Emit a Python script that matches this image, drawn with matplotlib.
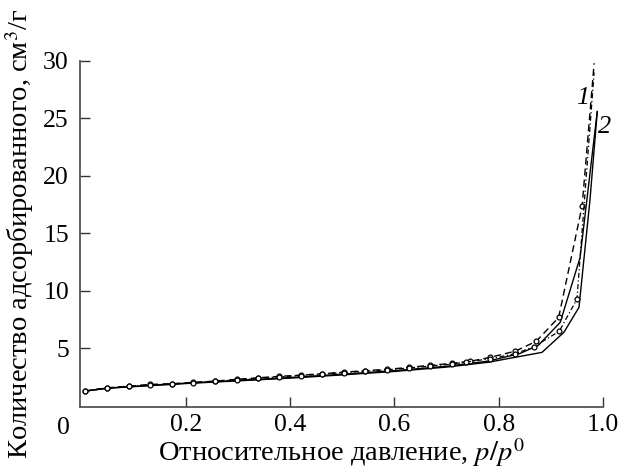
import numpy as np
import matplotlib
matplotlib.use("Agg")
import matplotlib.pyplot as plt

plt.rcParams["font.family"] = ["Liberation Serif", "DejaVu Serif"]
plt.rcParams["mathtext.fontset"] = "stix"

# curve 1, upper branch (dashed, circles)
x1a = [0.006, 0.049, 0.091, 0.132, 0.173, 0.214, 0.256, 0.297, 0.339, 0.379,
       0.420, 0.461, 0.503, 0.544, 0.586, 0.627, 0.668, 0.710, 0.745, 0.783,
       0.832, 0.872, 0.915, 0.960, 0.983]
y1a = [1.29, 1.58, 1.72, 1.87, 1.93, 2.05, 2.16, 2.31, 2.45, 2.57,
       2.68, 2.80, 2.94, 3.07, 3.18, 3.35, 3.53, 3.70, 3.88, 4.22,
       4.77, 5.62, 7.70, 17.4, 29.8]

# curve 1, lower branch (dashed, circles)
x1b = [0.006, 0.049, 0.091, 0.132, 0.173, 0.214, 0.256, 0.297, 0.339, 0.379,
       0.420, 0.461, 0.503, 0.544, 0.586, 0.627, 0.668, 0.710, 0.737, 0.783,
       0.832, 0.868, 0.916, 0.950, 0.983]
y1b = [1.29, 1.56, 1.70, 1.84, 1.91, 2.02, 2.13, 2.27, 2.41, 2.53,
       2.64, 2.76, 2.90, 3.02, 3.14, 3.30, 3.47, 3.64, 3.82, 4.10,
       4.55, 5.16, 6.49, 9.28, 29.0]

# curve 2, two solid branches
x2a = [0.006, 0.05, 0.1, 0.2, 0.3, 0.4, 0.5, 0.6, 0.7, 0.78, 0.84, 0.876,
       0.918, 0.956, 0.989]
y2a = [1.29, 1.55, 1.70, 1.98, 2.22, 2.47, 2.76, 3.07, 3.45, 3.90, 4.55,
       5.27, 7.27, 12.9, 25.6]
x2b = [0.006, 0.05, 0.1, 0.2, 0.3, 0.4, 0.5, 0.6, 0.7, 0.78, 0.84, 0.883,
       0.925, 0.954, 0.975, 0.989]
y2b = [1.29, 1.54, 1.68, 1.95, 2.18, 2.42, 2.70, 3.00, 3.38, 3.80, 4.30,
       4.66, 6.40, 8.58, 17.9, 25.6]

fig = plt.figure(figsize=(6.21, 4.69), dpi=100)
ax = fig.add_axes([0.129, 0.132, 0.842, 0.738])

ax.plot(x2a, y2a, color="black", lw=1.0)
ax.plot(x2b, y2b, color="black", lw=1.0)
ax.plot(x1a, y1a, color="black", lw=1.0, ls=(0, (5, 3)),
        marker="o", ms=3.5, mfc="white", mec="black", mew=0.9,
        markevery=list(range(len(x1a) - 1)))
ax.plot(x1b, y1b, color="black", lw=0.9, ls=(0, (4, 2, 1, 2)),
        marker="o", ms=3.5, mfc="white", mec="black", mew=0.9,
        markevery=list(range(len(x1b) - 1)))

ax.text(0.962, 26.8, "1", fontsize=19, style="italic", ha="center", va="center")
ax.text(1.004, 24.3, "2", fontsize=19, style="italic", ha="center", va="center")

ax.set_xlim(-0.003, 1.0)
ax.set_ylim(-0.1, 30)
ax.set_xticks([0.2, 0.4, 0.6, 0.8, 1.0])
ax.set_xticklabels(["0.2", "0.4", "0.6", "0.8", "1.0"])
ax.set_yticks([5, 10, 15, 20, 25, 30])
ax.text(-0.022, -1.0, "0", fontsize=18.5, ha="right", va="top")

for s in ["top", "right"]:
    ax.spines[s].set_visible(False)
for s in ["left", "bottom"]:
    ax.spines[s].set_color("#555555")
    ax.spines[s].set_linewidth(1.3)
ax.tick_params(direction="in", length=7, width=1.0, color="#333333",
               labelsize=18.5)
ax.tick_params(axis="x", pad=5)
ax.tick_params(axis="y", pad=8)

ax.set_xlabel("Относительное давление, $p/p^0$", fontsize=20.5, labelpad=0)
ax.set_ylabel("Количество адсорбированного, см$^3$/г", fontsize=20.5, labelpad=5)

fig.savefig("out.png", dpi=100)
